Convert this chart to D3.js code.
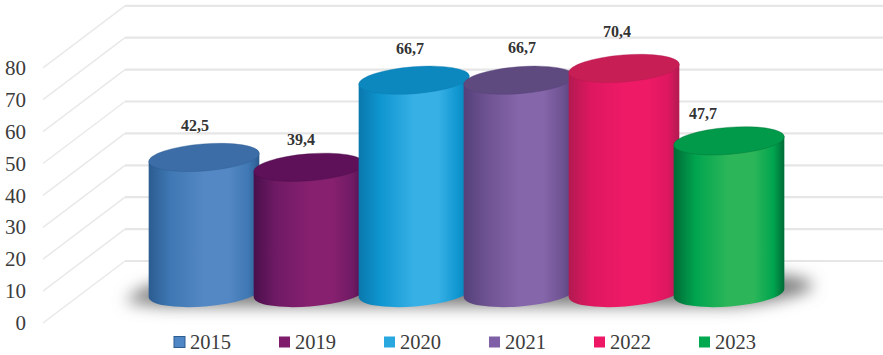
<!DOCTYPE html>
<html><head><meta charset="utf-8">
<script src="https://cdnjs.cloudflare.com/ajax/libs/d3/7.8.5/d3.min.js"></script>
<style>html,body{margin:0;padding:0;background:#fff}svg{display:block}text{font-family:"Liberation Serif",serif}</style>
</head><body><svg id="c" width="883" height="355"></svg>
<script>
const years = ["2015","2019","2020","2021","2022","2023"];
const values = [42.5,39.4,66.7,66.7,70.4,47.7];
const valueLabels = ["42,5","39,4","66,7","66,7","70,4","47,7"];
const yTicks = [0,10,20,30,40,50,60,70,80];
const edgeColors = ["#2c5c90","#4a0f4c","#0a78ad","#54407a","#b21a50","#006b36"];
const midColors  = ["#5488c4","#86206f","#37b0e6","#8566aa","#ee1a66","#2db659"];
const sideColors = ["#3f78b4","#6f1a64","#0f96d0","#6d5290","#de1760","#00a54f"];
const topColors  = ["#3c6da6","#5e1158","#0c88bf","#5f4a80","#c71e55","#009a4a"];
const legendColors = ["#4f86c6","#7f1d6c","#29a8e0","#7f5fa5","#ee1766","#00a94f"];
// hand-placed label offsets from the centre of each cylinder top, as in the reference
const labelDx = [-9,-8,-4,3,-7,-26];
const labelDy = [-32,-28,-32,-33,-37,-27];

const svg = d3.select("#c");
const defs = svg.append("defs");
const y = d3.scaleLinear().domain([0,80]).range([293,293-80*3.19]);
const x = d3.scalePoint().domain(years).range([204,729]);
const rx = 55.5, ry = 13.5, tilt = -4.5, ang = tilt*Math.PI/180;
const ex = rx*Math.cos(ang), ey = rx*Math.sin(ang);
const wallDX = 82, wallDY = -62, frontY = v => y(v)+30, backY = v => frontY(v)+wallDY;

// walls
const grid = svg.append("g");
grid.selectAll("path").data(yTicks).join("path")
  .attr("d", v => `M43,${frontY(v)}L${43+wallDX},${backY(v)}`)
  .attr("fill","none").attr("stroke","#e9e9e9").attr("stroke-width",1.5);
grid.selectAll("line").data(yTicks).join("line")
  .attr("x1",125).attr("x2",883).attr("y1",backY).attr("y2",backY)
  .attr("stroke","#e6e6e6").attr("stroke-width",2.2);

// axis labels
svg.append("g").selectAll("text").data(yTicks).join("text")
  .attr("x",26).attr("y",v => frontY(v)).attr("dy","0.34em").attr("text-anchor","end")
  .attr("font-size",21).attr("fill","#3c3c3c").text(d => d);

// floor shadow
const blur = defs.append("filter").attr("id","blur").attr("x","-20%").attr("y","-80%").attr("width","140%").attr("height","260%");
blur.append("feGaussianBlur").attr("stdDeviation",8);
const x0 = x(years[0]), x1 = x(years[5]);
svg.append("path").attr("filter","url(#blur)").attr("fill","#7c7c7c")
  .attr("d",`M${x0-78},${y(0)+9}Q${x0-66},${y(0)-8} ${x0-30},${y(0)-12}L${x1+50},${y(0)-18}Q${x1+90},${y(0)-14} ${x1+82},${y(0)-4}Q${x1+50},${y(0)+10} ${x1},${y(0)+13}L${x0-40},${y(0)+13}Z`);

// cylinders
years.forEach((yr,i)=>{
  const g = defs.append("linearGradient").attr("id","g"+i);
  [[0,edgeColors[i]],[0.2,sideColors[i]],[0.5,midColors[i]],[0.72,midColors[i]],[0.9,sideColors[i]],[1,edgeColors[i]]]
    .forEach(s=>g.append("stop").attr("offset",s[0]).attr("stop-color",s[1]));
});
const bars = svg.append("g").selectAll("g").data(years).join("g");
bars.append("path")
  .attr("fill",(d,i)=>`url(#g${i})`)
  .attr("d",(d,i)=>{
    const cx=x(d), t=y(values[i]), b=y(0);
    return `M${cx-ex},${t-ey}L${cx-ex},${b-ey}A${rx},${ry} ${tilt} 0 0 ${cx+ex},${b+ey}L${cx+ex},${t+ey}Z`;
  });
bars.append("ellipse")
  .attr("cx",0).attr("cy",0).attr("rx",rx).attr("ry",ry)
  .attr("transform",(d,i)=>`translate(${x(d)},${y(values[i])}) rotate(${tilt})`)
  .attr("fill",(d,i)=>topColors[i]).attr("stroke",(d,i)=>edgeColors[i]).attr("stroke-opacity",.45).attr("stroke-width",.8);

// value labels
svg.append("g").selectAll("text").data(valueLabels).join("text")
  .attr("x",(d,i)=>x(years[i])+labelDx[i]).attr("y",(d,i)=>y(values[i])+labelDy[i])
  .attr("dy","0.34em").attr("text-anchor","middle").attr("font-weight","bold")
  .attr("font-size",16).attr("fill","#333").text(d=>d);

// legend
const lg = svg.append("g").selectAll("g").data(years).join("g")
  .attr("transform",d=>`translate(${x(d)-30},342)`);
lg.append("rect").attr("x",0).attr("y",-5.5).attr("width",11).attr("height",11)
  .attr("fill",(d,i)=>legendColors[i])
  .attr("stroke",(d,i)=>i==0?"#2c5c90":"none");
lg.append("text").attr("x",16).attr("dy","0.34em").attr("font-size",20.5).attr("fill","#3c3c3c").text(d=>d);
</script></body></html>
